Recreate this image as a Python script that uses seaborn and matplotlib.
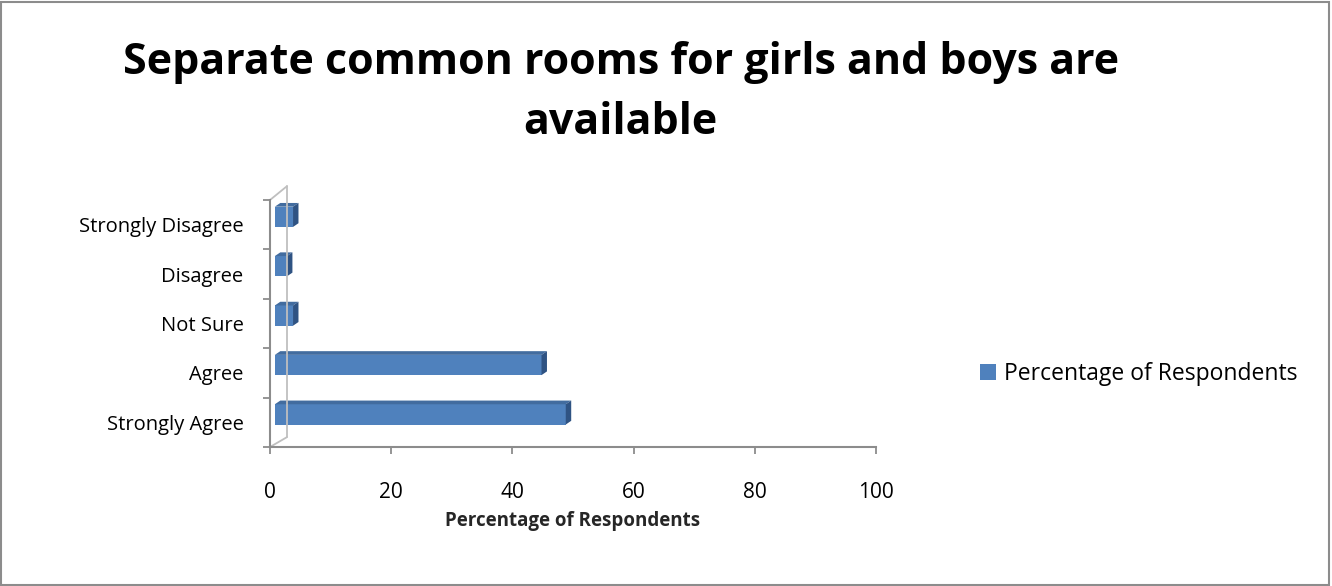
import matplotlib
matplotlib.use("Agg")
import matplotlib.pyplot as plt
import seaborn as sns
import pandas as pd
from matplotlib.patches import Polygon, Rectangle
from matplotlib.lines import Line2D

sns.set_theme(style="white")
plt.rcParams['font.family'] = ['Open Sans', 'DejaVu Sans']
plt.rcParams['text.color'] = 'black'
plt.rcParams['xtick.color'] = 'black'
plt.rcParams['ytick.color'] = 'black'

categories = ["Strongly Disagree", "Disagree", "Not Sure", "Agree", "Strongly Agree"]
values = [3, 2, 3, 44, 48]
series_name = "Percentage of Respondents"
x_ticks = [0, 20, 40, 60, 80, 100]

df = pd.DataFrame({"Response": categories, series_name: values})

fig = plt.figure(figsize=(13.32, 5.86), dpi=100)
ax = fig.add_axes([0.2027, 0.2372, 0.4550, 0.4215])

front = "#4F81BD"
side = "#2F5383"
topc = "#426C9F"
sns.barplot(data=df, y="Response", x=series_name, order=categories, color=front,
            width=0.41, saturation=1, ax=ax, orient="h", label=series_name)

# pseudo 3D: shift bars by the depth offset and add top / side faces
x_off, y_off = 0.8, -0.16
dx, dy = 0.9, 0.075
for p in list(ax.patches):
    p.set_x(p.get_x() + x_off)
    p.set_y(p.get_y() + y_off)
    p.set_edgecolor("none")
    x0, y0 = p.get_x(), p.get_y()
    w, h = p.get_width(), p.get_height()
    x1 = x0 + w
    z = p.get_zorder()
    ax.add_patch(Polygon([[x0, y0], [x0 + dx, y0 - dy], [x1 + dx, y0 - dy], [x1, y0]],
                         closed=True, facecolor=topc, edgecolor="none", zorder=z))
    ax.add_patch(Polygon([[x1, y0], [x1 + dx, y0 - dy], [x1 + dx, y0 + h - dy], [x1, y0 + h]],
                         closed=True, facecolor=side, edgecolor="none", zorder=z))

# 3D wall outline
wall = "#bfbfbf"
ax.add_line(Line2D([0, 2.8], [4.5, 4.3], color=wall, lw=1.3, clip_on=False, zorder=1))
ax.add_line(Line2D([0, 2.8], [-0.5, -0.78], color=wall, lw=1.3, clip_on=False, zorder=1))
ax.add_line(Line2D([2.8, 2.8], [-0.78, 4.3], color=wall, lw=1.3, clip_on=False, zorder=1))

ax.set_xlim(0, 100)
ax.set_ylim(4.5, -0.5)
ax.set_xticks(x_ticks)
ax.set_xticklabels([str(t) for t in x_ticks], fontsize=15)
ax.set_yticks(range(len(categories)))
ax.set_yticklabels(categories, fontsize=14.5)
ax.set_yticks([i - 0.5 for i in range(len(categories) + 1)], minor=True)
ax.tick_params(axis="y", which="major", left=False, length=0, pad=19)
ax.tick_params(axis="y", which="minor", left=True, length=5, color="#8c8c8c", width=1.3, direction="out")
ax.tick_params(axis="x", which="major", bottom=True, length=5, color="#8c8c8c", width=1.3, direction="out", pad=20)
ax.set_ylabel("")
ax.set_xlabel(series_name, fontsize=13.5, fontweight="bold")
ax.xaxis.set_label_coords(0.5, -0.30)
ax.xaxis.label.set_va("center")
for s in ["top", "right"]:
    ax.spines[s].set_visible(False)
for s in ["left", "bottom"]:
    ax.spines[s].set_color("#8c8c8c")
    ax.spines[s].set_linewidth(1.5)

leg = ax.legend(loc="center left", bbox_to_anchor=(980 / 1332, 1 - 374 / 586),
                bbox_transform=fig.transFigure, frameon=False, fontsize=16.5,
                handlelength=0.7, handleheight=0.7, handletextpad=0.35,
                borderpad=0, borderaxespad=0)

fig.text(0.466, 1 - 63 / 586, "Separate common rooms for girls and boys are",
         ha="center", va="center", fontsize=31, fontweight="bold")
fig.text(0.466, 1 - 123 / 586, "available",
         ha="center", va="center", fontsize=31, fontweight="bold")

fig.patches.append(Rectangle((0.001, 0.002), 0.997, 0.995, transform=fig.transFigure,
                             fill=False, edgecolor="#8c8c8c", linewidth=1.5))

fig.savefig("out.png", dpi=100)
